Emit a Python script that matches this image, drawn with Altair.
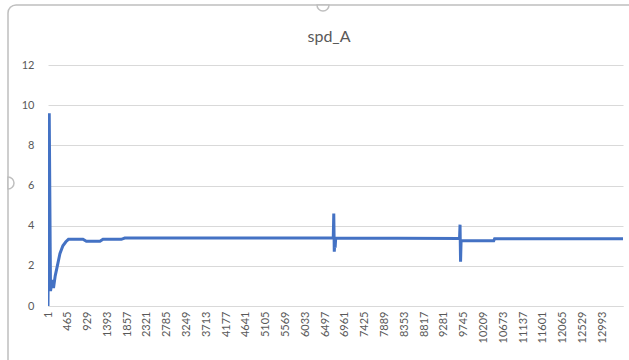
import altair as alt
import pandas as pd

# Breakpoints of the spd_A trace (sample index, speed)
sample_idx = [1, 30, 60, 100, 130, 170, 220, 280, 350, 420, 480,
              820, 900, 1220, 1290, 1720, 1800,
              6688, 6700, 6712, 6722, 6732, 6745,
              9648, 9660, 9672, 9684, 9700, 10450, 10470, 13480]
spd_values = [0.0, 9.6, 0.75, 1.3, 0.9, 1.5, 2.0, 2.6, 3.0, 3.2, 3.32,
              3.32, 3.22, 3.22, 3.32, 3.32, 3.38,
              3.38, 4.6, 2.7, 3.1, 2.9, 3.38,
              3.36, 4.05, 2.2, 3.2, 3.25, 3.25, 3.35, 3.35]

x_tick_labels = [1, 465, 929, 1393, 1857, 2321, 2785, 3249, 3713, 4177,
                 4641, 5105, 5569, 6033, 6497, 6961, 7425, 7889, 8353,
                 8817, 9281, 9745, 10209, 10673, 11137, 11601, 12065,
                 12529, 12993]
y_tick_labels = [0, 2, 4, 6, 8, 10, 12]
chart_title = "spd_A"

df = pd.DataFrame({"sample": sample_idx, "spd_A": spd_values})

FONT = "Lato"
TEXT = "#595959"
GRID = "#D9D9D9"
FRAME = "#BFBFBF"

line = alt.Chart(df).mark_line(color="#4472C4", strokeWidth=3, clip=True).encode(
    x=alt.X("sample:Q",
            scale=alt.Scale(domain=[1, 13480], nice=False, zero=False),
            axis=alt.Axis(values=x_tick_labels, format="d", labelAngle=-90,
                          title=None, grid=False, ticks=False,
                          domainColor=GRID, labelColor=TEXT, labelFont=FONT,
                          labelFontSize=11, labelPadding=5, labelOverlap=False)),
    y=alt.Y("spd_A:Q",
            scale=alt.Scale(domain=[0, 12], nice=False),
            axis=alt.Axis(values=y_tick_labels, title=None, domain=False,
                          ticks=False, gridColor=GRID, gridWidth=1,
                          labelColor=TEXT, labelFont=FONT, labelFontSize=11,
                          labelPadding=14)),
)

# Chart title, centred over the chart area
title = alt.Chart().mark_text(text=chart_title, font=FONT, fontSize=16,
                              color=TEXT, align="center",
                              baseline="middle").encode(
    x=alt.value(281), y=alt.value(-28)
)

# Chart-area frame with its selection handles
frame = alt.Chart().mark_rect(filled=False, stroke=FRAME, strokeWidth=1.5,
                              cornerRadius=8).encode(
    x=alt.value(-40), x2=alt.value(700), y=alt.value(-60), y2=alt.value(420)
)
top_handle = alt.Chart().mark_arc(radius=6, theta=1.5708, theta2=4.7124,
                                  fill="white", stroke=FRAME,
                                  strokeWidth=1.5).encode(
    x=alt.value(275), y=alt.value(-60)
)
left_handle = alt.Chart().mark_arc(radius=6, theta=0, theta2=3.1416,
                                   fill="white", stroke=FRAME,
                                   strokeWidth=1.5).encode(
    x=alt.value(-40), y=alt.value(118)
)

chart = alt.layer(frame, line, title, top_handle, left_handle).properties(
    width=575,
    height=241,
    autosize=alt.AutoSizeParams(type="none"),
    padding={"left": 48, "top": 65, "right": 6, "bottom": 54},
    background="white",
).configure_view(stroke=None)

chart.save("out.html", embed_options={"renderer": "svg", "actions": False})
